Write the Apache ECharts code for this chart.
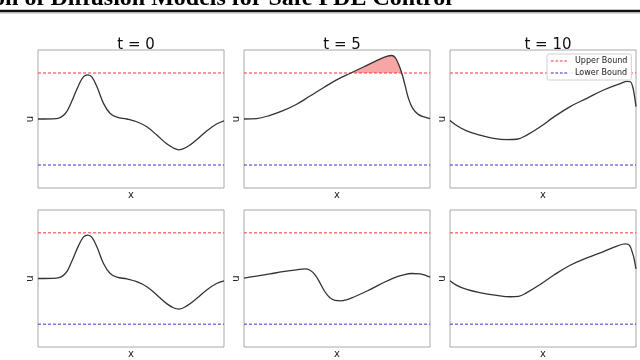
<!DOCTYPE html>
<html>
<head>
<meta charset="utf-8">
<script src="https://cdn.jsdelivr.net/npm/echarts@6/dist/echarts.min.js"></script>
<style>
  html, body { margin: 0; padding: 0; background: #fff; }
  #main { width: 640px; height: 360px; }
</style>
</head>
<body>
<div id="main"></div>
<script>
// values, x normalised 0..1
const titles = ["t = 0", "t = 5", "t = 10"];
const legendNames = ["Upper Bound", "Lower Bound"];
const upperBound = 1;
const lowerBound = -1;
const boundX = [0, 1];

// top row
const xTop0 = [0, 0.10, 0.147, 0.18, 0.218, 0.245, 0.268, 0.29, 0.317, 0.352, 0.388, 0.424, 0.478, 0.531, 0.585, 0.639, 0.692, 0.728, 0.758, 0.80, 0.853, 0.907, 0.96, 1.0];
const uTop0 = [0, 0.01, 0.12, 0.37, 0.73, 0.92, 0.96, 0.91, 0.70, 0.34, 0.12, 0.04, 0.0, -0.06, -0.17, -0.35, -0.54, -0.63, -0.67, -0.61, -0.45, -0.26, -0.11, -0.04];
const xTop5 = [0, 0.068, 0.14, 0.21, 0.283, 0.355, 0.427, 0.498, 0.574, 0.642, 0.713, 0.767, 0.794, 0.812, 0.83, 0.848, 0.866, 0.884, 0.907, 0.937, 0.973, 1.0];
const uTop5 = [0, 0.01, 0.08, 0.18, 0.32, 0.50, 0.68, 0.85, 1.0, 1.13, 1.27, 1.36, 1.38, 1.34, 1.20, 1.0, 0.73, 0.45, 0.23, 0.10, 0.04, 0.01];
const xTop10 = [0, 0.036, 0.09, 0.16, 0.233, 0.305, 0.359, 0.413, 0.485, 0.557, 0.646, 0.736, 0.826, 0.916, 0.952, 0.97, 0.982, 0.991, 1.0];
const uTop10 = [-0.03, -0.14, -0.26, -0.35, -0.42, -0.45, -0.44, -0.35, -0.17, 0.04, 0.27, 0.45, 0.63, 0.77, 0.82, 0.81, 0.70, 0.52, 0.27];

// bottom row
const xBot0 = xTop0;
const uBot0 = [0, 0.01, 0.11, 0.36, 0.72, 0.91, 0.95, 0.90, 0.69, 0.33, 0.11, 0.03, -0.01, -0.07, -0.18, -0.36, -0.55, -0.64, -0.67, -0.60, -0.44, -0.25, -0.11, -0.05];
const xBot5 = [0, 0.068, 0.14, 0.21, 0.283, 0.328, 0.355, 0.382, 0.409, 0.435, 0.462, 0.49, 0.52, 0.555, 0.588, 0.659, 0.731, 0.803, 0.857, 0.901, 0.946, 0.982, 1.0];
const uBot5 = [0.01, 0.05, 0.10, 0.15, 0.19, 0.21, 0.18, 0.08, -0.10, -0.29, -0.42, -0.48, -0.49, -0.46, -0.41, -0.28, -0.13, 0.01, 0.08, 0.11, 0.10, 0.06, 0.03];
const xBot10 = [0, 0.036, 0.09, 0.16, 0.251, 0.323, 0.368, 0.413, 0.485, 0.557, 0.646, 0.736, 0.826, 0.898, 0.943, 0.964, 0.982, 0.991, 1.0];
const uBot10 = [-0.05, -0.15, -0.24, -0.31, -0.37, -0.40, -0.39, -0.31, -0.13, 0.07, 0.29, 0.45, 0.59, 0.71, 0.76, 0.73, 0.55, 0.41, 0.21];

// part of the t = 5 curve above the upper bound (shaded)
const fillFrom = 8;
const fillTo = 15;

const curves = [
  [xTop0, uTop0], [xTop5, uTop5], [xTop10, uTop10],
  [xBot0, uBot0], [xBot5, uBot5], [xBot10, uBot10],
];

const zip = (xs, ys) => xs.map((x, i) => [x, ys[i]]);

const lefts = [38, 244, 450];
const tops = [50, 210];
const W = 186;
const H = 138;
const red = "#ff3535";
const blue = "#3535d8";
const dashIcon = "path://M0,0h3v1h-3z M5,0h3v1h-3z M10,0h3v1h-3z M15,0h3v1h-3z";

const grid = [];
const xAxis = [];
const yAxis = [];
const series = [];

curves.forEach((c, i) => {
  const col = i % 3;
  const row = Math.floor(i / 3);
  grid.push({
    left: lefts[col], top: tops[row], width: W, height: H,
    show: true, borderColor: "#a8a8a8", borderWidth: 1,
  });
  xAxis.push({
    gridIndex: i, type: "value", min: 0, max: 1,
    name: "x", nameLocation: "middle", nameGap: 2,
    nameTextStyle: { fontSize: 10, color: "#222", fontFamily: "DejaVu Sans" },
    axisLine: { show: false }, axisTick: { show: false },
    axisLabel: { show: false }, splitLine: { show: false },
  });
  yAxis.push({
    gridIndex: i, type: "value", min: -1.5, max: 1.5,
    name: "u", nameLocation: "middle", nameGap: 3,
    nameTextStyle: { fontSize: 10, color: "#222", fontFamily: "DejaVu Sans" },
    axisLine: { show: false }, axisTick: { show: false },
    axisLabel: { show: false }, splitLine: { show: false },
  });
  series.push({
    name: legendNames[0], type: "line", xAxisIndex: i, yAxisIndex: i,
    data: boundX.map((x) => [x, upperBound]), symbol: "none", silent: true,
    lineStyle: { color: red, width: 1, type: [3, 2] }, itemStyle: { color: red },
  });
  series.push({
    name: legendNames[1], type: "line", xAxisIndex: i, yAxisIndex: i,
    data: boundX.map((x) => [x, lowerBound]), symbol: "none", silent: true,
    lineStyle: { color: blue, width: 1, type: [3, 2] }, itemStyle: { color: blue },
  });
  series.push({
    name: "u" + i, type: "line", xAxisIndex: i, yAxisIndex: i,
    data: zip(c[0], c[1]), symbol: "none", smooth: 0.4, silent: true, z: 3,
    lineStyle: { color: "#333", width: 1.3 },
  });
});

// shaded violation region on t = 5 (top row)
series.push({
  name: "violation", type: "line", xAxisIndex: 1, yAxisIndex: 1,
  data: zip(xTop5.slice(fillFrom, fillTo + 1), uTop5.slice(fillFrom, fillTo + 1)),
  symbol: "none", smooth: 0.4, silent: true, z: 1,
  lineStyle: { width: 0, opacity: 0 },
  areaStyle: { origin: upperBound, color: "#f7a5a5", opacity: 1 },
});

const option = {
  animation: false,
  backgroundColor: "#fff",
  title: titles.map((t, i) => ({
    text: t, left: lefts[i] + W / 2, top: 33, textAlign: "center",
    textStyle: { fontSize: 15, fontWeight: "normal", color: "#111", fontFamily: "DejaVu Sans" },
  })),
  legend: {
    data: legendNames.map((n) => ({ name: n, icon: dashIcon })),
    orient: "vertical", left: 547, top: 54,
    itemWidth: 16, itemHeight: 1.2, itemGap: 4,
    padding: [3, 4], backgroundColor: "rgba(255,255,255,0.85)",
    borderColor: "#d0d0d0", borderWidth: 1, borderRadius: 2,
    textStyle: { fontSize: 8, color: "#222", fontFamily: "DejaVu Sans", padding: [0, 0, 0, 3] },
    selectedMode: false,
  },
  grid, xAxis, yAxis, series,
  graphic: [
    {
      type: "text", x: 452, y: -1,
      style: {
        text: "tion of Diffusion Models for Safe PDE Control",
        font: 'bold 24px "Liberation Serif"', fill: "#000",
        textAlign: "right", textVerticalAlign: "middle",
      },
    },
    { type: "line", shape: { x1: 0, y1: 11, x2: 640, y2: 11 }, style: { stroke: "#111", lineWidth: 2.5 } },
    { type: "line", shape: { x1: 0, y1: 13, x2: 640, y2: 13 }, style: { stroke: "#aaa", lineWidth: 1 } },
  ],
};

const chart = echarts.init(document.getElementById("main"));
chart.setOption(option);
</script>
</body>
</html>
